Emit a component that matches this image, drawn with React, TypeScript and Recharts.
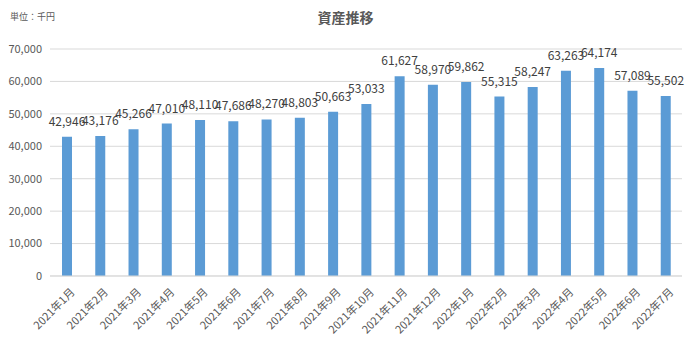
import React from 'react';
import { BarChart, Bar, XAxis, YAxis, CartesianGrid, LabelList } from 'recharts';

const months = [
  '2021年1月', '2021年2月', '2021年3月', '2021年4月', '2021年5月', '2021年6月',
  '2021年7月', '2021年8月', '2021年9月', '2021年10月', '2021年11月', '2021年12月',
  '2022年1月', '2022年2月', '2022年3月', '2022年4月', '2022年5月', '2022年6月', '2022年7月',
];
const assets = [
  42946, 43176, 45266, 47010, 48110, 47686, 48270, 48803, 50663, 53033, 61627, 58970,
  59862, 55315, 58247, 63263, 64174, 57089, 55502,
];
const yTicks = [0, 10000, 20000, 30000, 40000, 50000, 60000, 70000];

const data = months.map((m, i) => ({ month: m, value: assets[i] }));

const font = '"Noto Sans CJK JP", "Noto Sans", sans-serif';
const fmt = (v: number) => v.toLocaleString('en-US');

// rotated category labels, anchored at the end like Excel
const MonthTick = (props: any) => {
  const { x, y, payload } = props;
  return (
    <g transform={`translate(${x + 6},${y + 6})`}>
      <text transform="rotate(-45)" textAnchor="end" dy={4} fontSize={11} fill="#595959" fontFamily={font}>
        {payload.value}
      </text>
    </g>
  );
};

export default function App() {
  return (
    <div style={{ position: 'absolute', left: 0, top: 0, width: 691, height: 341, background: '#fff', fontFamily: font }}>
      <div style={{ position: 'absolute', left: 10, top: 10, fontSize: 9, color: '#595959' }}>単位：千円</div>
      <div style={{ position: 'absolute', left: 0, width: 691, top: 7, textAlign: 'center', fontSize: 14, fontWeight: 'bold', color: '#595959' }}>
        資産推移
      </div>
      <BarChart width={691} height={341} data={data} margin={{ top: 49, right: 9, left: 0, bottom: 5 }}>
        <CartesianGrid vertical={false} stroke="#d9d9d9" />
        <XAxis
          dataKey="month"
          interval={0}
          height={60}
          tickLine={false}
          axisLine={{ stroke: '#d9d9d9' }}
          tick={<MonthTick />}
        />
        <YAxis
          width={50}
          domain={[0, 70000]}
          ticks={yTicks}
          tickFormatter={fmt}
          axisLine={false}
          tickLine={false}
          tick={{ fontSize: 11, fill: '#595959', fontFamily: font }}
        />
        <Bar dataKey="value" fill="#5b9bd5" barSize={10} isAnimationActive={false}>
          <LabelList dataKey="value" position="top" offset={11} formatter={(v: any) => fmt(Number(v))} fontSize={12} fill="#404040" fontFamily={font} />
        </Bar>
      </BarChart>
    </div>
  );
}
